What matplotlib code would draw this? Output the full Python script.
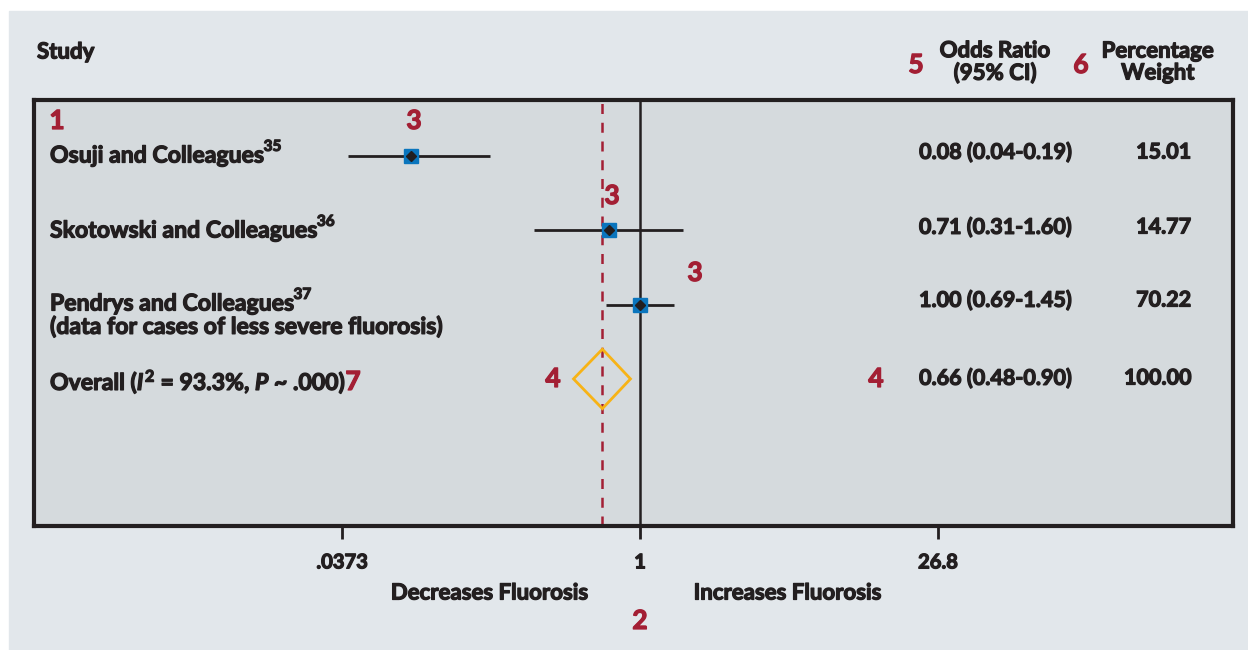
import matplotlib.pyplot as plt
import matplotlib.patheffects as pe
import numpy as np
from matplotlib.patches import Rectangle, Polygon

plt.rcParams['font.family'] = ['Lato', 'DejaVu Sans']
plt.rcParams['font.weight'] = 'bold'
plt.rcParams['mathtext.fontset'] = 'custom'
plt.rcParams['mathtext.rm'] = 'Lato:bold'
plt.rcParams['mathtext.it'] = 'Lato:bold:italic'
plt.rcParams['mathtext.bf'] = 'Lato:bold'

# data
studies = ['Osuji and Colleagues', 'Skotowski and Colleagues', 'Pendrys and Colleagues']
refs = ['35', '36', '37']
odds = [0.08, 0.71, 1.00]
ci_low = [0.04, 0.31, 0.69]
ci_high = [0.19, 1.60, 1.45]
weights = ['15.01', '14.77', '70.22']
overall_or = 0.66
overall_low = 0.48
overall_high = 0.90
overall_weight = '100.00'
tick_vals = [0.0373, 1, 26.8]
tick_labels = ['.0373', '1', '26.8']

TXT = '#231f20'
RED = '#a31f34'
BLUE = '#0a75bd'
ORANGE = '#f7b316'
PANEL = '#e2e7eb'
BOX = '#d5dadd'

# thicken the strokes a little, the source font is heavier than Lato bold
heavy = [pe.withStroke(linewidth=0.9, foreground=TXT)]
heavy_red = [pe.withStroke(linewidth=0.9, foreground=RED)]

W, H = 1248, 650
fig = plt.figure(figsize=(W / 100, H / 100), dpi=100)
fig.patch.set_facecolor('white')


def px(x, y):
    return x / W, 1 - y / H


fig.patches.append(Rectangle(px(9, 650), (W - 9) / W, (650 - 11) / H,
                             transform=fig.transFigure, color=PANEL, zorder=-10))

ax = fig.add_axes([34 / W, 1 - 526 / H, (1233 - 34) / W, (526 - 100) / H])
ax.set_facecolor(BOX)
ax.set_xscale('log')
ax.set_xlim(np.exp(-6.689), np.exp(6.545))
ax.set_ylim(4.98, -0.754)

for s in ax.spines.values():
    s.set_linewidth(3)
    s.set_color(TXT)

rows = np.arange(len(studies))
ax.axvline(1, color=TXT, lw=1.8, zorder=1)
ax.axvline(overall_or, color=RED, lw=1.8, ls=(0, (4, 3.5)), zorder=1)

ax.hlines(rows, ci_low, ci_high, color=TXT, lw=2, zorder=2)
ax.plot(odds, rows, 's', color=BLUE, ms=10.5, zorder=3)
ax.plot(odds, rows, 'D', color=TXT, ms=5.5, zorder=4)

yo = len(studies)
diamond = Polygon([(overall_low, yo), (overall_or, yo - 0.4),
                   (overall_high, yo), (overall_or, yo + 0.4)],
                  closed=True, fill=False, edgecolor=ORANGE, lw=2, zorder=3)
ax.add_patch(diamond)

ax.set_xticks(tick_vals)
ax.set_xticklabels(tick_labels)
ax.minorticks_off()
ax.tick_params(axis='x', direction='out', length=9, width=2, color=TXT,
               labelsize=14.5, labelcolor=TXT, pad=10)
for lab in ax.get_xticklabels():
    lab.set_path_effects(heavy)
ax.set_yticks([])

fs = 16
sfs = 16.6
nfs = 15.5
# header
fig.text(*px(37, 52), 'Study', fontsize=fs, color=TXT, va='center', ha='left',
         path_effects=heavy)
fig.text(*px(995, 62), 'Odds Ratio\n(95% CI)', fontsize=fs, color=TXT,
         va='center', ha='center', linespacing=1.05, path_effects=heavy)
fig.text(*px(1158, 62), 'Percentage\nWeight', fontsize=fs, color=TXT,
         va='center', ha='center', linespacing=1.05, path_effects=heavy)

row_px = [156, 231, 304]
for name, ref, o, lo, hi, w, yp in zip(studies, refs, odds, ci_low, ci_high, weights, row_px):
    t = fig.text(*px(50, yp), name, fontsize=sfs, color=TXT, va='center', ha='left',
                 path_effects=heavy)
    ax.annotate(ref, xy=(1.0, 0.6), xycoords=t, fontsize=11, color=TXT,
                va='bottom', ha='left', path_effects=heavy)
    fig.text(*px(995, yp - 4), '%.2f (%.2f-%.2f)' % (o, lo, hi), fontsize=nfs,
             color=TXT, va='center', ha='center', path_effects=heavy)
    fig.text(*px(1191, yp - 4), w, fontsize=nfs, color=TXT, va='center', ha='right',
             path_effects=heavy)

fig.text(*px(50, 327), '(data for cases of less severe fluorosis)', fontsize=sfs,
         color=TXT, va='center', ha='left', path_effects=heavy)
t_ov = fig.text(*px(50, 382), r'Overall ($I^2$ = 93.3%, $P$ ~ .000)', fontsize=sfs,
                color=TXT, va='center', ha='left', path_effects=heavy)
fig.text(*px(995, 378), '%.2f (%.2f-%.2f)' % (overall_or, overall_low, overall_high),
         fontsize=nfs, color=TXT, va='center', ha='center', path_effects=heavy)
fig.text(*px(1191, 378), overall_weight, fontsize=nfs, color=TXT, va='center', ha='right',
         path_effects=heavy)

fig.text(*px(490, 593), 'Decreases Fluorosis', fontsize=fs, color=TXT, va='center',
         ha='center', path_effects=heavy)
fig.text(*px(788, 593), 'Increases Fluorosis', fontsize=fs, color=TXT, va='center',
         ha='center', path_effects=heavy)

# red annotation numbers
rfs = 19
ax.annotate('7', xy=(1.0, 0.5), xycoords=t_ov, fontsize=rfs, color=RED,
            va='center', ha='left', path_effects=heavy_red)
for lab, xp, yp in [('1', 57, 121), ('3', 414, 121), ('3', 612, 196), ('3', 695, 273),
                    ('4', 553, 379), ('4', 876, 379), ('5', 916, 65), ('6', 1081, 65),
                    ('2', 640, 621)]:
    fig.text(*px(xp, yp), lab, fontsize=rfs, color=RED, va='center', ha='center',
             path_effects=heavy_red)

fig.savefig('out.png', dpi=100)
